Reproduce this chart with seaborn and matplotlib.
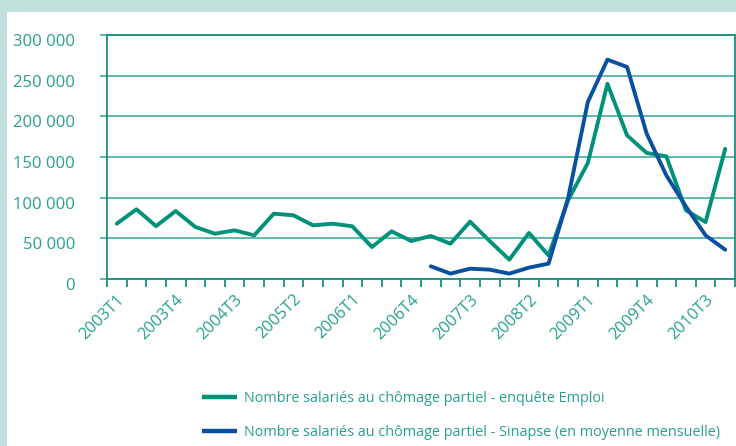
import matplotlib
matplotlib.use("Agg")
import matplotlib.pyplot as plt
import matplotlib.transforms as mtransforms
from matplotlib.patches import Rectangle
import numpy as np
import pandas as pd
import seaborn as sns

# ---- data ----
quarters = [f"{y}T{q}" for y in range(2003, 2011) for q in range(1, 5)]
enquete_emploi = [68000, 85700, 65000, 83600, 64000, 55700, 59800, 53700,
                  80300, 78300, 66000, 68000, 64800, 39300, 58600, 46700,
                  52900, 43400, 70500, 46700, 23800, 56600, 29000, 97000,
                  142600, 240000, 176600, 155000, 150800, 84400, 70000, 160000]
sinapse = [None] * 16 + [15600, 6600, 12700, 11500, 6600, 14000, 18900, 100000,
                         217600, 269700, 260700, 178700, 127500, 89000, 53700, 36000]
label_emploi = "Nombre salariés au chômage partiel - enquête Emploi"
label_sinapse = "Nombre salariés au chômage partiel - Sinapse (en moyenne mensuelle)"
yticks = [0, 50000, 100000, 150000, 200000, 250000, 300000]
ytick_labels = ["0", "50 000", "100 000", "150 000", "200 000", "250 000", "300 000"]

# ---- styling ----
sns.set_theme(style="white")
plt.rcParams['font.family'] = ['Open Sans', 'DejaVu Sans']

GREEN = "#00917a"
BLUE = "#0a50a1"
TEXT = "#27a08f"
GRID = "#55b3a5"
SPINE = "#16907e"
BG = "#c2e1dc"

idx = np.arange(len(quarters))
df = pd.concat([
    pd.DataFrame({"q": idx, "v": enquete_emploi, "s": label_emploi}),
    pd.DataFrame({"q": idx, "v": sinapse, "s": label_sinapse}),
]).dropna()
df["v"] = df["v"].astype(float)

fig = plt.figure(figsize=(7.36, 4.46), dpi=100)
fig.patch.set_facecolor(BG)
fig.patches.append(Rectangle((7 / 736, 0), 1, 1 - 12 / 446, transform=fig.transFigure,
                             facecolor="white", edgecolor="none", zorder=-10))

ax = fig.add_axes([107 / 736, 1 - 279 / 446, (735 - 107) / 736, (279 - 35) / 446])
ax.set_zorder(1)
ax.set_facecolor("none")

sns.lineplot(data=df, x="q", y="v", hue="s", palette=[GREEN, BLUE], ax=ax,
             linewidth=2.8, legend=False, sort=False)

ax.set_xlim(-0.5, len(quarters) - 0.5)
ax.set_ylim(0, 300000)
ax.set_yticks(yticks)
ax.set_yticklabels(ytick_labels)
ax.yaxis.grid(True, color=GRID, linewidth=1.3)
ax.xaxis.grid(False)
ax.set_axisbelow(True)
ax.set_xlabel("")
ax.set_ylabel("")

# x ticks: major labels at category centres every 3rd, minor ticks at boundaries
ax.set_xticks(idx[::3])
ax.set_xticklabels([quarters[i] for i in idx[::3]], rotation=45, ha="right",
                   rotation_mode="anchor")
ax.set_xticks(np.arange(-0.5, len(quarters)), minor=True)
ax.tick_params(axis="x", which="both", bottom=True)
ax.tick_params(axis="x", which="major", length=0, pad=9, labelsize=11.8, labelcolor=TEXT)
ax.tick_params(axis="x", which="minor", length=5.8, width=1.3, color=SPINE, direction="out")
ax.tick_params(axis="y", which="major", left=True, length=5, width=1.3, color=GRID,
               labelsize=12, labelcolor=TEXT, pad=18)
offset = mtransforms.ScaledTranslation(0, -5 / 100, fig.dpi_scale_trans)
for lab in ax.get_yticklabels():
    lab.set_transform(lab.get_transform() + offset)

for side in ["left", "bottom", "right", "top"]:
    ax.spines[side].set_visible(True)
    ax.spines[side].set_color(SPINE)
    ax.spines[side].set_linewidth(1.3)

handles = [plt.Line2D([], [], color=GREEN, linewidth=3.2, solid_capstyle="butt"),
           plt.Line2D([], [], color=BLUE, linewidth=3.2, solid_capstyle="butt")]
leg = fig.legend(handles, [label_emploi, label_sinapse], loc="upper left",
                 bbox_to_anchor=(189 / 736, 1 - 378 / 446), frameon=False,
                 fontsize=10.4, handlelength=2.45, handletextpad=0.45, labelspacing=1.32)
for t in leg.get_texts():
    t.set_color(TEXT)

fig.savefig("out.png", dpi=100, facecolor=fig.get_facecolor())
